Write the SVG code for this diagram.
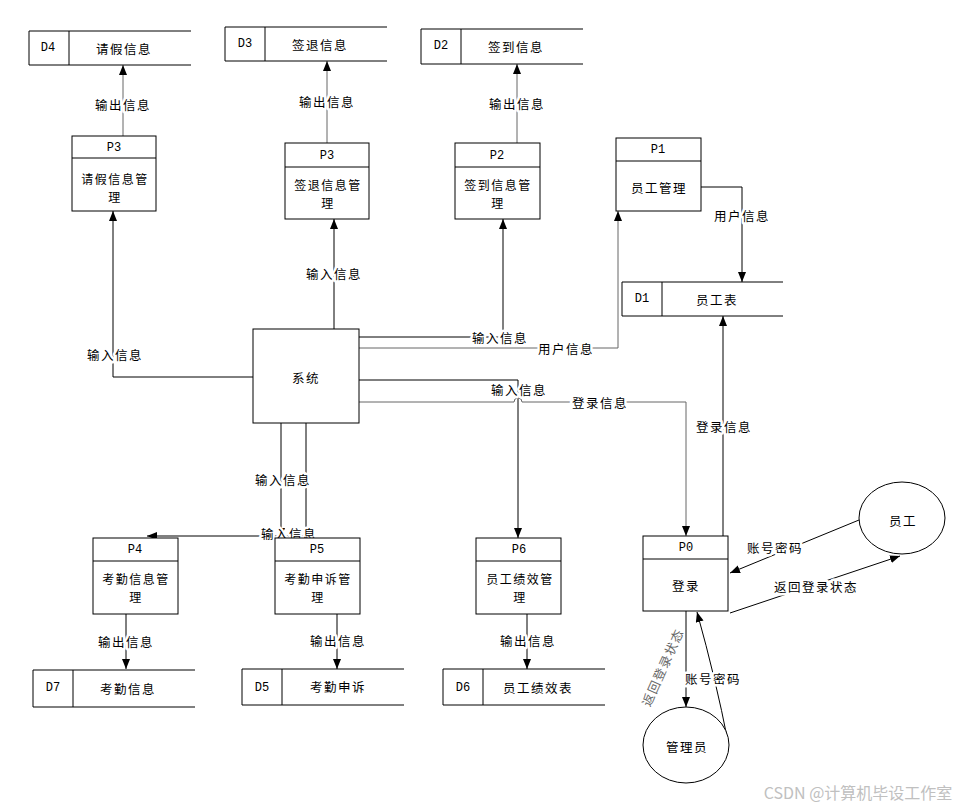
<svg xmlns="http://www.w3.org/2000/svg" width="974" height="809" viewBox="0 0 974 809">
<style>
text{font-family:"Noto Sans CJK SC","Liberation Sans",sans-serif;font-size:12.5px;fill:#000;text-anchor:middle;dominant-baseline:central;letter-spacing:1.5px}
.box{fill:#fff;stroke:#000;stroke-width:1}
.ln{fill:none;stroke:#000;stroke-width:1}
.c{fill:none;stroke:#000;stroke-width:1;marker-end:url(#ah)}
.g{stroke:#666}
.lbl{paint-order:stroke;stroke:#fff;stroke-width:5px;stroke-linejoin:round}
.id{font-family:"Liberation Mono",monospace;font-size:12px;letter-spacing:0}
.t2{font-size:12px}
</style>
<defs>
<marker id="ah" markerUnits="userSpaceOnUse" markerWidth="10" markerHeight="10" refX="10" refY="4" orient="auto">
<path d="M0,0 L10,4 L0,8 z" fill="#000"/>
</marker>
</defs>
<rect width="974" height="809" fill="#fff"/>

<g id="connectors">
<path class="c g" d="M123,136 V65"/>
<path class="c" d="M253,377 H113 V211"/>
<path class="c g" d="M327,143 V61"/>
<path class="c" d="M334,329 V219"/>
<path class="c g" d="M517,143 V64"/>
<path class="c" d="M359,337 H503 V219"/>
<path class="c g" d="M359,348 H618 V211"/>
<path class="c" d="M701,187 H742 V282"/>
<path class="c" d="M359,380 H518 V538"/>
<path class="c g" d="M359,402 H514 A4,4 0 0 1 522,402 H686 V536"/>
<path class="c" d="M723,536 V316"/>
<path class="c" d="M859,520 L730,573"/>
<path class="c" d="M730,613 L900,556"/>
<path class="c" d="M686,611 V707"/>
<path class="c" d="M728,742 Q716,680 697,612"/>
<path class="c" d="M281,423 V538"/>
<path class="c" d="M306,423 V536 H147"/>
<path class="c" d="M126,614 V669"/>
<path class="c" d="M337,614 V669"/>
<path class="c" d="M527,614 V669"/>
</g>

<g id="labels">
<text class="lbl" x="123" y="104">输出信息</text>
<text class="lbl" x="327" y="101">输出信息</text>
<text class="lbl" x="517" y="103">输出信息</text>
<text class="lbl" x="126" y="641">输出信息</text>
<text class="lbl" x="338" y="640">输出信息</text>
<text class="lbl" x="528" y="640">输出信息</text>
<text class="lbl" x="115" y="354">输入信息</text>
<text class="lbl" x="334" y="273">输入信息</text>
<text class="lbl" x="500" y="337">输入信息</text>
<text class="lbl" x="519" y="389">输入信息</text>
<text class="lbl" x="283" y="479">输入信息</text>
<text class="lbl" x="289" y="533">输入信息</text>
<text class="lbl" x="742" y="215">用户信息</text>
<text class="lbl" x="566" y="348">用户信息</text>
<text class="lbl" x="600" y="402">登录信息</text>
<text class="lbl" x="724" y="426">登录信息</text>
<text class="lbl" x="775" y="547">账号密码</text>
<text class="lbl" x="713" y="678">账号密码</text>
<text class="lbl" x="816" y="586">返回登录状态</text>
<text x="662" y="667" style="fill:#666" transform="rotate(-66 662 667)">返回登录状态</text>
</g>

<g id="D4"><path class="ln" d="M191,31 H29 V65 H191 M69,31 V65"/><text class="id" x="48" y="48">D4</text><text x="124" y="48">请假信息</text></g>
<g id="D3"><path class="ln" d="M387,27 H225 V61 H387 M265,27 V61"/><text class="id" x="245" y="44">D3</text><text x="320" y="44">签退信息</text></g>
<g id="D2"><path class="ln" d="M583,29 H421 V64 H583 M461,29 V64"/><text class="id" x="441" y="46">D2</text><text x="516" y="46">签到信息</text></g>
<g id="D1"><path class="ln" d="M783,282 H622 V316 H783 M662,282 V316"/><text class="id" x="642" y="299">D1</text><text x="717" y="299">员工表</text></g>
<g id="D7"><path class="ln" d="M195,670 H33 V707 H195 M73,670 V707"/><text class="id" x="53" y="688">D7</text><text x="128" y="688">考勤信息</text></g>
<g id="D5"><path class="ln" d="M404,669 H242 V705 H404 M282,669 V705"/><text class="id" x="262" y="688">D5</text><text x="338" y="686">考勤申诉</text></g>
<g id="D6"><path class="ln" d="M605,669 H443 V705 H605 M483,669 V705"/><text class="id" x="463" y="688">D6</text><text x="538" y="687">员工绩效表</text></g>

<g id="P3a"><rect class="box" x="72" y="136" width="84" height="75"/><path class="ln" d="M72,158 H156"/><text class="id" x="114" y="148">P3</text><text class="t2" x="115" y="178">请假信息管</text><text class="t2" x="115" y="196">理</text></g>
<g id="P3b"><rect class="box" x="285" y="143" width="84" height="76"/><path class="ln" d="M285,167 H369"/><text class="id" x="327" y="156">P3</text><text class="t2" x="328" y="184">签退信息管</text><text class="t2" x="328" y="202">理</text></g>
<g id="P2"><rect class="box" x="455" y="143" width="85" height="76"/><path class="ln" d="M455,167 H540"/><text class="id" x="497" y="156">P2</text><text class="t2" x="498" y="184">签到信息管</text><text class="t2" x="498" y="202">理</text></g>
<g id="P1"><rect class="box" x="616" y="138" width="85" height="73"/><path class="ln" d="M616,161 H701"/><text class="id" x="658" y="150">P1</text><text x="659" y="187">员工管理</text></g>
<g id="system"><rect class="box" x="253" y="329" width="106" height="94"/><text x="306" y="377">系统</text></g>
<g id="P4"><rect class="box" x="93" y="538" width="85" height="76"/><path class="ln" d="M93,561 H178"/><text class="id" x="135" y="550">P4</text><text class="t2" x="136" y="578">考勤信息管</text><text class="t2" x="136" y="596">理</text></g>
<g id="P5"><rect class="box" x="275" y="538" width="85" height="76"/><path class="ln" d="M275,561 H360"/><text class="id" x="317" y="550">P5</text><text class="t2" x="318" y="578">考勤申诉管</text><text class="t2" x="318" y="596">理</text></g>
<g id="P6"><rect class="box" x="476" y="538" width="85" height="76"/><path class="ln" d="M476,561 H561"/><text class="id" x="519" y="550">P6</text><text class="t2" x="520" y="578">员工绩效管</text><text class="t2" x="520" y="596">理</text></g>
<g id="P0"><rect class="box" x="643" y="536" width="85" height="75"/><path class="ln" d="M643,559 H728"/><text class="id" x="686" y="548">P0</text><text x="686" y="585">登录</text></g>
<g id="employee"><ellipse class="box" cx="902" cy="518" rx="43" ry="36"/><text x="903" y="520">员工</text></g>
<g id="admin"><ellipse class="box" cx="686" cy="745" rx="43" ry="38"/><text x="687" y="746">管理员</text></g>

<text x="858" y="792" style="font-size:16px;fill:#c0c0c0;letter-spacing:0">CSDN @计算机毕设工作室</text>
</svg>
